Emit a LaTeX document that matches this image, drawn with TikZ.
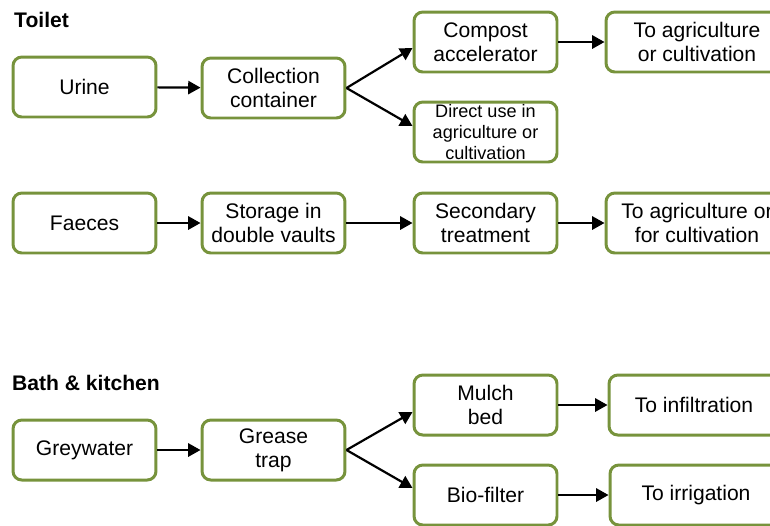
\documentclass[tikz,border=0pt]{standalone}
\usepackage{fontspec}
\setmainfont{Liberation Sans}
\usetikzlibrary{arrows.meta}
\definecolor{boxgreen}{RGB}{119,147,60}

\begin{document}
\begin{tikzpicture}[x=0.02cm,y=-0.02cm,
  box/.style={draw=boxgreen,line width=1.7pt,rounded corners=5pt,fill=white,
    minimum width=2.86cm,minimum height=1.2cm,inner sep=0pt,align=center,
    font=\fontsize{12}{13.5}\selectfont},
  flow/.style={-{Triangle[length=7pt,width=7.5pt]},line width=1.25pt},
  title/.style={anchor=west,font=\fontsize{12}{14}\selectfont\bfseries}]

\useasboundingbox (0,0) rectangle (770,525);

% toilet
\node[title] (toilet) at (8,20) {Toilet};

\node[box] (urine) at (84.5,87) {Urine};
\node[box] (coll) at (273.5,88) {Collection\\container};
\node[box] (comp) at (485.5,42) {Compost\\accelerator};
\node[box,font=\fontsize{10.3}{12.2}\selectfont] (direct) at (485.5,132) {Direct use in\\agriculture or\\cultivation};
\node[box,minimum width=3.64cm] (agri1) at (697,42) {To agriculture\\or cultivation};

\node[box] (faeces) at (84.5,223) {Faeces};
\node[box] (stor) at (273.5,223) {Storage in\\double vaults};
\node[box] (sec) at (485.5,223) {Secondary\\treatment};
\node[box,minimum width=3.64cm] (agri2) at (697,223) {To agriculture or\\for cultivation};

\path[flow] (urine) edge (coll);
\path[flow] (coll.east) edge ([yshift=-3.4pt]comp.west);
\path[flow] (coll.east) edge ([yshift=3.4pt]direct.west);
\path[flow] (comp) edge (agri1);
\path[flow] (faeces) edge (stor);
\path[flow] (stor) edge (sec);
\path[flow] (sec) edge (agri2);

% bath and kitchen
\node[title] (bath) at (6,383) {Bath \& kitchen};

\node[box] (grey) at (84.5,450) {Greywater};
\node[box] (grease) at (273.5,450) {Grease\\trap};
\node[box] (mulch) at (485.5,405) {Mulch\\bed};
\node[box] (bio) at (485.5,495) {Bio-filter};
\node[box,minimum width=3.4cm] (infil) at (694,405) {To infiltration};
\node[box,minimum width=3.44cm] (irrig) at (696,495) {To irrigation};

\path[flow] (grey) edge (grease);
\path[flow] (grease.east) edge ([yshift=-4pt]mulch.west);
\path[flow] (grease.east) edge ([yshift=4pt]bio.west);
\path[flow] (mulch) edge (infil);
\path[flow] (bio) edge (irrig);

\end{tikzpicture}
\end{document}
